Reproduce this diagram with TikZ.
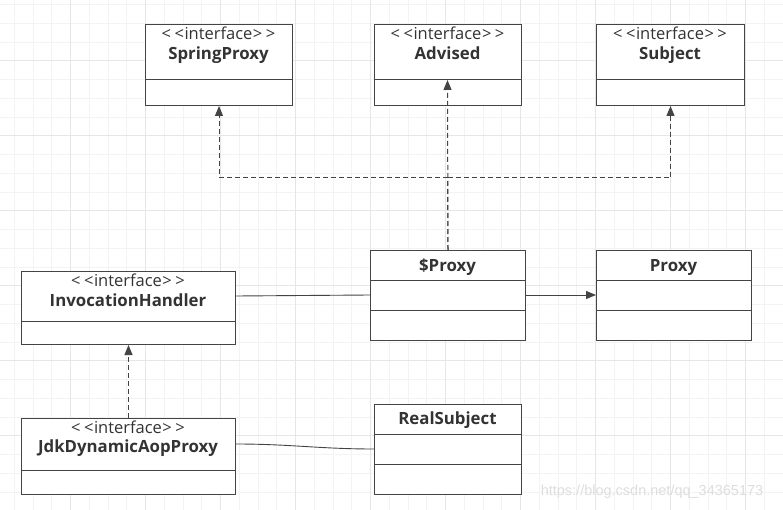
\documentclass[tikz,border=0pt]{standalone}
\usepackage{fontspec}
\setmainfont{Open Sans}
\newfontfamily\wmfont{Liberation Sans}
\usetikzlibrary{arrows.meta}
\definecolor{ln}{RGB}{68, 68, 68}
\definecolor{tx}{RGB}{51, 51, 51}
\definecolor{gmin}{RGB}{243, 243, 243}
\definecolor{gmaj}{RGB}{230, 230, 230}
\definecolor{wm}{RGB}{222, 222, 222}
\tikzset{
  cls/.style={draw=ln, line width=1pt, fill=white, anchor=north west, inner sep=0pt},
  stereo/.style={text=tx, inner sep=0pt, anchor=base, font=\fontsize{16.5}{17}\selectfont},
  cname/.style={text=tx, inner sep=0pt, anchor=base, font=\fontsize{16.8}{17}\selectfont\bfseries},
  divider/.style={draw=ln, line width=1pt},
  realize/.style={draw=ln, line width=1pt, dash pattern=on 5pt off 3pt},
  tip/.style={-{Triangle[length=10pt,width=8pt]}},
  assoc/.style={draw=ln, line width=0.9pt}
}
\newcommand{\stereotype}{<\hspace{3.5pt}<\hspace{0.5pt}interface\hspace{0.5pt}>\hspace{3.5pt}>}

\begin{document}
\begin{tikzpicture}[x=1pt, y=-1pt]
      \fill[white] (0,0) rectangle (783,510);
      \useasboundingbox (0,0) rectangle (783,510);
      \foreach \i in {0,...,41} \draw[gmin, line width=0.8pt] ({14.3+18.75*\i},0) -- ++(0,510);
      \foreach \i in {0,...,27} \draw[gmin, line width=0.8pt] (0,{4.55+18.75*\i}) -- ++(783,0);
      \foreach \i in {0,...,10} \draw[gmaj, line width=0.8pt] ({70.55+75*\i},0) -- ++(0,510);
      \foreach \i in {0,...,6} \draw[gmaj, line width=0.8pt] (0,{60.8+75*\i}) -- ++(783,0);

      \node[cls, minimum width=147pt, minimum height=81pt] (sp) at (145,24) {};
      \node[cls, minimum width=147pt, minimum height=81pt] (ad) at (374,24) {};
      \node[cls, minimum width=148pt, minimum height=81pt] (sb) at (596,24) {};
      \node[cls, minimum width=155pt, minimum height=90pt] (px) at (370,250) {};
      \node[cls, minimum width=155pt, minimum height=90pt] (pr) at (596,250) {};
      \node[cls, minimum width=214pt, minimum height=73pt] (ih) at (21,271) {};
      \node[cls, minimum width=214pt, minimum height=76pt] (jdk) at (21,418) {};
      \node[cls, minimum width=147pt, minimum height=90pt] (rs) at (374,404) {};

      \draw[divider] (sp.west |- 0,80) -- (sp.east |- 0,80);
      \draw[divider] (ad.west |- 0,80) -- (ad.east |- 0,80);
      \draw[divider] (sb.west |- 0,80) -- (sb.east |- 0,80);
      \draw[divider] (px.west |- 0,280) -- (px.east |- 0,280);
      \draw[divider] (px.west |- 0,310) -- (px.east |- 0,310);
      \draw[divider] (pr.west |- 0,280) -- (pr.east |- 0,280);
      \draw[divider] (pr.west |- 0,310) -- (pr.east |- 0,310);
      \draw[divider] (ih.west |- 0,321.5) -- (ih.east |- 0,321.5);
      \draw[divider] (jdk.west |- 0,470) -- (jdk.east |- 0,470);
      \draw[divider] (rs.west |- 0,434) -- (rs.east |- 0,434);
      \draw[divider] (rs.west |- 0,464) -- (rs.east |- 0,464);

      \node[stereo] (sp-st) at (218.5,40) {\stereotype};
      \node[cname] (sp-nm) at (218.5,60) {SpringProxy};
      \node[stereo] (ad-st) at (447.5,40) {\stereotype};
      \node[cname] (ad-nm) at (447.5,60) {Advised};
      \node[stereo] (sb-st) at (670,40) {\stereotype};
      \node[cname] (sb-nm) at (670,60) {Subject};
      \node[cname] (px-nm) at (447.5,271.5) {\$Proxy};
      \node[cname] (pr-nm) at (673.5,271.5) {Proxy};
      \node[stereo] (ih-st) at (128,286.5) {\stereotype};
      \node[cname] (ih-nm) at (128,306.5) {InvocationHandler};
      \node[stereo] (jdk-st) at (128,433) {\stereotype};
      \node[cname] (jdk-nm) at (128,452.5) {JdkDynamicAopProxy};
      \node[cname] (rs-nm) at (447.5,424.5) {RealSubject};

      \coordinate (junc) at (447.5,178);
      \coordinate (ad-div) at (447.5,80);
      \draw[realize] (px.north) -- (junc);
      \draw[realize, tip] (junc) -| (sp.south);
      \draw[realize, tip] (junc) -| (sb.south);
      \draw[realize, tip] (px.north) -- (ad-div);
      \draw[realize, tip] (jdk.north) -- (ih.south);

      \draw[assoc, tip] (px.east |- 0,295) -- (pr.west |- 0,295);
      \draw[assoc] (ih.east |- 0,296) -- (px.west |- 0,295);
      \draw[assoc] (jdk.east |- 0,444) to[out=0, in=180] (rs.west |- 0,449);

      \node[text=wm, font=\wmfont\fontsize{14.5}{15}\selectfont] (wmark) at (652,492) {https://blog.csdn.net/qq\_34365173};
    \end{tikzpicture}
\end{document}
